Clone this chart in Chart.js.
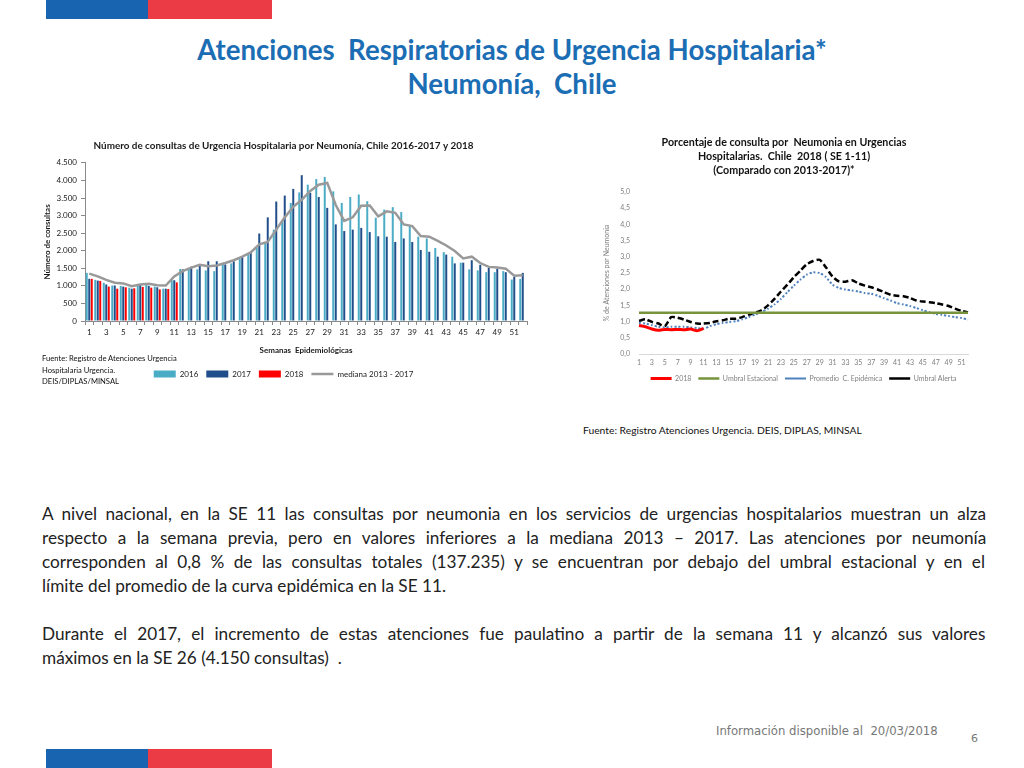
<!DOCTYPE html>
<html lang="es">
<head>
<meta charset="utf-8">
<title>Atenciones Respiratorias de Urgencia Hospitalaria - Neumonía, Chile</title>
<script src="https://cdn.jsdelivr.net/npm/chart.js"></script>
<style>
  html, body { margin:0; padding:0; background:#fff; }
  #slide { position:relative; width:1024px; height:768px; overflow:hidden; background:#fff; font-family:Lato, sans-serif; }
  .bar { position:absolute; height:19px; }
  .title { position:absolute; left:0; width:1024px; text-align:center; color:#1b6db4; font-family:Lato, sans-serif; font-weight:700; white-space:pre; line-height:1; }
  .body-line { position:absolute; left:42px; white-space:pre; font-family:Lato, sans-serif; font-size:17.2px; color:#222; line-height:1; }
  .just { white-space:nowrap; }
  .src { position:absolute; font-family:Lato, sans-serif; color:#111; white-space:nowrap; line-height:1; }
  canvas { position:absolute; }
</style>
</head>
<body>
<div id="slide">
  <div class="bar" style="left:46px;top:0;width:102px;background:#1864b0;"></div>
  <div class="bar" style="left:148px;top:0;width:124px;background:#eb3c46;"></div>
  <div class="bar" style="left:46px;top:749px;width:102px;background:#1864b0;"></div>
  <div class="bar" style="left:148px;top:749px;width:124px;background:#eb3c46;"></div>

  <div id="t1" class="title" style="top:36px;font-size:24px;">Atenciones  Respiratorias de Urgencia Hospitalaria*</div>
  <div id="t2" class="title" style="top:70px;font-size:24px;">Neumonía,  Chile</div>

  <canvas id="c1" width="492" height="262" style="left:40px;top:130px;"></canvas>
  <canvas id="c2" width="374" height="262" style="left:600px;top:130px;"></canvas>

  <div class="src" style="left:42px;top:353px;font-size:7.6px;line-height:11.5px;">Fuente: Registro de Atenciones Urgencia<br>Hospitalaria Urgencia.<br>DEIS/DIPLAS/MINSAL</div>
  <div class="src" id="fuente2" style="left:583px;top:425px;font-size:9.4px;">Fuente: Registro Atenciones Urgencia. DEIS, DIPLAS, MINSAL</div>

  <div class="body-line just" style="top:505px;">A nivel nacional, en la SE 11 las consultas por neumonia en los servicios de urgencias hospitalarios muestran un alza</div>
  <div class="body-line just" style="top:529px;">respecto a la semana previa, pero en valores inferiores a la mediana 2013 – 2017. Las atenciones por neumonía</div>
  <div class="body-line just" style="top:553px;">corresponden al 0,8 % de las consultas totales (137.235) y se encuentran por debajo del umbral estacional y en el</div>
  <div class="body-line" style="top:577px;">límite del promedio de la curva epidémica en la SE 11.</div>
  <div class="body-line just" style="top:625px;">Durante el 2017, el  incremento de estas atenciones fue paulatino a partir de la semana 11 y alcanzó sus valores</div>
  <div class="body-line" style="top:649px;">máximos en la SE 26 (4.150 consultas)  .</div>

  <div id="info" class="src" style="left:716px;top:726px;font-family:'DejaVu Sans', sans-serif;font-size:11px;color:#777;white-space:pre;">Información disponible al  20/03/2018</div>
  <div class="src" style="left:971px;top:733px;font-family:'DejaVu Sans', sans-serif;font-size:11px;color:#777;">6</div>
</div>

<script>
// ---------- DATA ----------
const weeks = ['1','2','3','4','5','6','7','8','9','10','11','12','13','14','15','16','17','18','19','20',
  '21','22','23','24','25','26','27','28','29','30','31','32','33','34','35','36','37','38','39','40',
  '41','42','43','44','45','46','47','48','49','50','51','52'];

// Number of consultations (left chart)
const cons2016 = [1370,1170,1090,1010,1000,950,1010,1040,980,920,1160,1480,1480,1470,1440,1420,1610,1640,1770,1890,
  2080,2230,2600,2840,3360,3660,3880,4040,4100,3690,3360,3530,3600,3410,2940,3170,3240,3100,2700,2400,
  2350,2080,1960,1830,1660,1470,1440,1390,1390,1420,1180,1200];
const cons2017 = [1200,1150,1040,1010,980,920,1040,1000,960,920,1160,1470,1545,1580,1700,1700,1610,1700,1830,1940,
  2490,2950,3400,3570,3760,4150,3650,3530,3220,2750,2560,2600,2650,2530,2410,2400,2250,2350,2250,2020,
  1970,1830,1890,1640,1660,1730,1600,1510,1490,1390,1260,1370];
const cons2018 = [1200,1140,980,920,960,930,970,950,900,910,1100];
const median1317 = [1350,1270,1170,1090,1070,990,1040,1060,1020,1010,1270,1420,1520,1600,1560,1580,1650,1730,1830,1950,
  2180,2250,2600,2950,3250,3450,3700,3880,3930,3300,2850,2950,3280,3290,2980,3120,3080,2750,2700,2420,
  2400,2280,2150,1990,1780,1830,1650,1540,1520,1490,1290,1300];

// Percentage (right chart)
const pct2018 = [0.88,0.84,0.77,0.73,0.76,0.75,0.76,0.75,0.77,0.72,0.79];
const umbralEstacional = [1.27,1.27,1.27,1.27,1.27,1.27,1.27,1.27,1.27,1.27,1.27,1.27,1.27,1.27,1.27,1.27,1.27,1.27,1.27,1.27,
  1.27,1.27,1.27,1.27,1.27,1.27,1.27,1.27,1.27,1.27,1.27,1.27,1.27,1.27,1.27,1.27,1.27,1.27,1.27,1.27,
  1.27,1.27,1.27,1.27,1.27,1.27,1.27,1.27,1.27,1.27,1.27,1.27];
const promedioCE = [0.96,0.94,0.89,0.84,0.82,0.84,0.84,0.84,0.82,0.80,0.78,0.86,0.92,0.96,0.99,1.01,1.07,1.14,1.22,1.29,
  1.40,1.53,1.70,1.91,2.11,2.29,2.45,2.52,2.50,2.37,2.14,2.04,1.99,1.96,1.93,1.88,1.86,1.80,1.72,1.65,
  1.57,1.53,1.48,1.42,1.35,1.29,1.24,1.21,1.17,1.14,1.11,1.06];
const umbralAlerta = [1.02,1.07,0.99,0.94,0.86,1.14,1.12,1.06,0.99,0.94,0.94,0.96,1.01,1.04,1.09,1.09,1.14,1.21,1.27,1.35,
  1.50,1.70,1.93,2.14,2.37,2.57,2.77,2.87,2.91,2.67,2.39,2.24,2.23,2.28,2.18,2.11,2.06,1.99,1.91,1.83,
  1.80,1.78,1.73,1.65,1.62,1.60,1.57,1.53,1.48,1.40,1.33,1.29];

// ---------- TEXT FITTING ----------
const mctx = document.createElement('canvas').getContext('2d');
function measure(el, text) {
  const cs = getComputedStyle(el);
  mctx.font = cs.fontWeight + ' ' + cs.fontSize + ' ' + cs.fontFamily;
  return mctx.measureText(text).width;
}
function fitWidth(el, target) {
  const w = measure(el, el.textContent);
  const fs = parseFloat(getComputedStyle(el).fontSize);
  const nfs = fs * target / w;
  el.style.fontSize = nfs + 'px';
  return nfs;
}
const tfs = fitWidth(document.getElementById('t1'), 630);
document.getElementById('t2').style.fontSize = tfs + 'px';
fitWidth(document.getElementById('info'), 222);
fitWidth(document.getElementById('fuente2'), 279);
document.querySelectorAll('.just').forEach(el => {
  const text = el.textContent.replace(/\s+/g, ' ');
  el.textContent = text;
  const w = measure(el, text);
  const n = (text.match(/ /g) || []).length;
  el.style.wordSpacing = ((945 - w) / n) + 'px';
});

// ---------- LEFT CHART ----------
const fmtThousands = v => v >= 1000 ? Math.floor(v / 1000) + '.' + String(v % 1000).padStart(3, '0') : String(v);
const dark = '#1a1a1a';
new Chart(document.getElementById('c1'), {
  type: 'bar',
  data: {
    labels: weeks,
    datasets: [
      { label: '2016', data: cons2016, backgroundColor: '#4bacc6', order: 1, categoryPercentage: 0.88, barPercentage: 0.8 },
      { label: '2017', data: cons2017, backgroundColor: '#1f4e8a', order: 1, categoryPercentage: 0.88, barPercentage: 0.8 },
      { label: '2018', data: cons2018, backgroundColor: '#ff0000', order: 1, categoryPercentage: 0.88, barPercentage: 0.8 },
      { type: 'line', label: 'mediana 2013 - 2017', data: median1317, borderColor: '#999999', borderWidth: 2.5,
        pointRadius: 0, tension: 0, order: 0, fill: false }
    ]
  },
  options: {
    responsive: false, animation: false, devicePixelRatio: 1,
    layout: { padding: { left: 0, right: 5, top: 0, bottom: 4 } },
    plugins: {
      tooltip: { enabled: false },
      title: {
        display: true,
        text: 'Número de consultas de Urgencia Hospitalaria por Neumonía, Chile 2016-2017 y 2018',
        font: { family: 'Lato', size: 9.9, weight: 'bold', lineHeight: 1.1 }, color: dark,
        padding: { top: 10, bottom: 12 }
      },
      legend: {
        position: 'bottom',
        labels: {
          usePointStyle: true, pointStyleWidth: 22, boxHeight: 7, padding: 8,
          font: { family: 'Lato', size: 8 }, color: dark,
          sort: (a, b) => a.datasetIndex - b.datasetIndex,
          generateLabels: chart => {
            const items = Chart.defaults.plugins.legend.labels.generateLabels(chart);
            items.forEach(it => {
              const ds = chart.data.datasets[it.datasetIndex];
              if (ds.type === 'line') { it.pointStyle = 'line'; it.strokeStyle = ds.borderColor; it.lineWidth = 2.5; }
              else { it.pointStyle = 'rect'; it.lineWidth = 0; }
            });
            return items;
          }
        }
      }
    },
    scales: {
      x: {
        grid: { display: true, drawOnChartArea: false, tickLength: 4, color: '#8a8a8a' },
        border: { color: '#8a8a8a' },
        ticks: { autoSkip: false, maxRotation: 0, minRotation: 0, padding: 3,
          font: { family: 'Lato', size: 8 }, color: dark,
          callback: (v, i) => (i % 2 === 0 ? weeks[i] : '') },
        title: { display: true, text: 'Semanas  Epidemiológicas', font: { family: 'Lato', size: 8, weight: 'bold' }, color: dark,
          padding: { top: 2, bottom: 7 } },
        afterFit: s => { s.height = 41; }
      },
      y: {
        min: 0, max: 4500,
        grid: { display: true, drawOnChartArea: false, tickLength: 4, color: '#8a8a8a' },
        border: { color: '#8a8a8a' },
        ticks: { stepSize: 500, padding: 4, font: { family: 'Lato', size: 8 }, color: dark, callback: v => fmtThousands(v) },
        title: { display: true, text: 'Número de consultas', font: { family: 'Lato', size: 8, weight: 'bold' }, color: dark,
          padding: { top: 3, bottom: 0 } },
        afterFit: s => { s.width = 45; }
      }
    }
  }
});

// ---------- RIGHT CHART ----------
const grey = '#7f7f7f';
new Chart(document.getElementById('c2'), {
  type: 'line',
  data: {
    labels: weeks,
    datasets: [
      { label: '2018', data: pct2018, borderColor: '#ff0000', borderWidth: 3, pointRadius: 0, tension: 0.2 },
      { label: 'Umbral Estacional', data: umbralEstacional, borderColor: '#77933c', borderWidth: 2.5, pointRadius: 0 },
      { label: 'Promedio  C. Epidémica', data: promedioCE, borderColor: '#4f81bd', borderWidth: 2, borderDash: [2, 2], pointRadius: 0, tension: 0.2 },
      { label: 'Umbral Alerta', data: umbralAlerta, borderColor: '#000000', borderWidth: 2.5, borderDash: [6, 3], pointRadius: 0, tension: 0.2 }
    ]
  },
  options: {
    responsive: false, animation: false, devicePixelRatio: 1,
    layout: { padding: { left: 0, right: 6, top: 0, bottom: 0 } },
    plugins: {
      tooltip: { enabled: false },
      title: {
        display: true,
        text: ['Porcentaje de consulta por  Neumonia en Urgencias', 'Hospitalarias.  Chile  2018 ( SE 1-11)', '(Comparado con 2013-2017)*'],
        font: { family: 'Lato', size: 10.7, weight: 'bold', lineHeight: 1.31 }, color: '#111',
        padding: { top: 6, bottom: 14 }
      },
      legend: {
        position: 'bottom', fullSize: false,
        labels: {
          usePointStyle: true, pointStyle: 'line', pointStyleWidth: 21, boxHeight: 7, padding: 7,
          font: { family: 'Lato', size: 7 }, color: grey
        }
      }
    },
    scales: {
      x: {
        grid: { display: false, drawTicks: false },
        border: { display: true, color: '#d9d9d9' },
        ticks: { autoSkip: false, maxRotation: 0, minRotation: 0, padding: 5,
          font: { family: 'Lato', size: 7 }, color: grey,
          callback: (v, i) => (i % 2 === 0 ? weeks[i] : '') },
        afterFit: s => { s.height = 14; }
      },
      y: {
        min: 0, max: 5,
        grid: { display: false, drawTicks: false },
        border: { display: false },
        ticks: { stepSize: 0.5, padding: 9, font: { family: 'Lato', size: 7 }, color: grey,
          callback: v => v.toFixed(1).replace('.', ',') },
        title: { display: true, text: '% de Atenciones por Neumonia', font: { family: 'Lato', size: 7 }, color: grey,
          padding: { top: 3, bottom: 0 } },
        afterFit: s => { s.width = 39; }
      }
    }
  }
});
</script>
</body>
</html>
